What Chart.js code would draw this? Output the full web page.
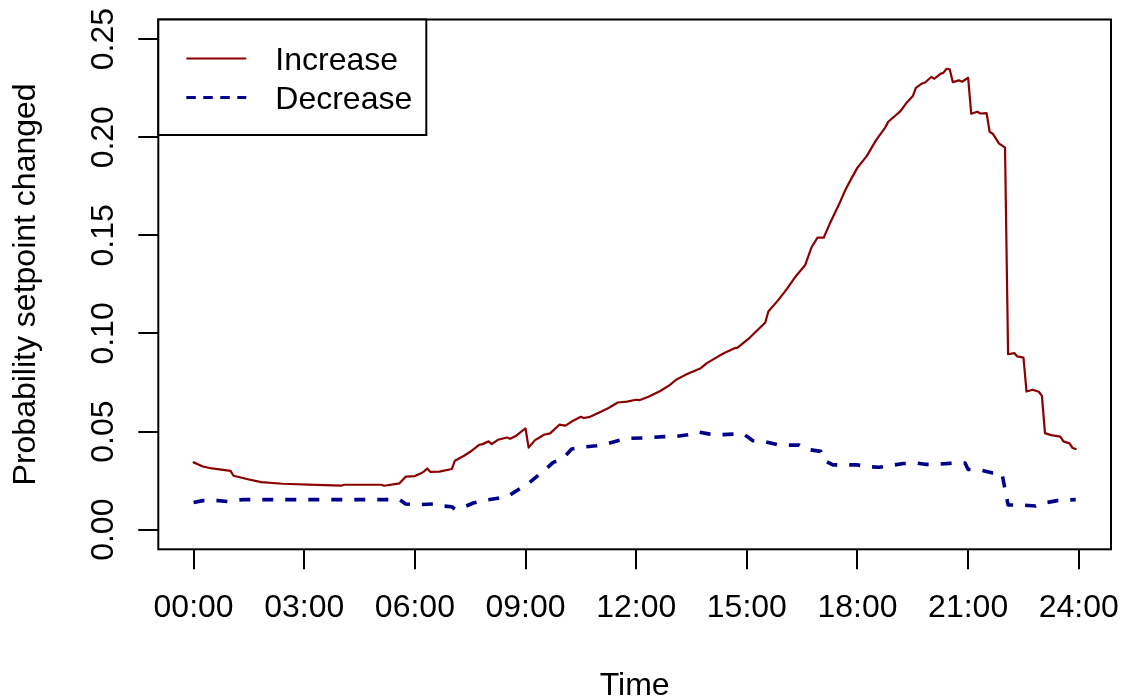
<!DOCTYPE html>
<html>
<head>
<meta charset="utf-8">
<title>Probability setpoint changed</title>
<script src="https://cdn.jsdelivr.net/npm/chart.js@4.4.1/dist/chart.umd.min.js"></script>
<style>
  html, body { margin: 0; padding: 0; background: #ffffff; overflow: hidden; }
  #wrap { position: relative; width: 1123px; height: 699px; }
</style>
</head>
<body>
<div id="wrap"><canvas id="chart" width="1123" height="699"></canvas></div>
<script>
// Time of day for each observation of the "Increase" series
const increaseTimes = [
  "00:00","00:15","00:30","01:00","01:05","01:30","01:50","02:25","03:20","04:00",
  "04:05","05:05","05:10","05:35","05:45","06:00","06:10","06:15","06:20","06:25",
  "06:40","07:00","07:05","07:20","07:30","07:45","07:50","08:00","08:05","08:15",
  "08:30","08:35","08:45","08:50","09:00","09:05","09:15","09:30","09:40","09:55",
  "10:05","10:15","10:30","10:35","10:45","11:00","11:15","11:30","11:45","12:00",
  "12:05","12:20","12:40","12:55","13:05","13:20","13:45","13:55","14:15","14:25",
  "14:40","14:45","15:05","15:30","15:35","15:50","16:05","16:20","16:35","16:45",
  "16:55","17:05","17:15","17:30","17:40","17:50","18:00","18:15","18:30","18:45",
  "18:50","19:10","19:20","19:30","19:35","19:45","19:50","20:00","20:05","20:15",
  "20:20","20:25","20:30","20:35","20:45","20:50","21:00","21:05","21:15","21:20",
  "21:30","21:35","21:40","21:50","22:00","22:05","22:15","22:20","22:30","22:35",
  "22:45","22:55","23:00","23:05","23:15","23:30","23:35","23:45","23:50","23:55"
];
// Probability that the setpoint was raised
const increaseValues = [
  0.0343,0.0322,0.0312,0.0300,0.0275,0.0256,0.0242,0.0234,0.0228,0.0224,
  0.0229,0.0229,0.0224,0.0236,0.0270,0.0273,0.0287,0.0297,0.0312,0.0295,
  0.0296,0.0309,0.0351,0.0377,0.0397,0.0433,0.0436,0.0450,0.0436,0.0458,
  0.0470,0.0463,0.0479,0.0492,0.0516,0.0418,0.0455,0.0484,0.0491,0.0535,
  0.0530,0.0551,0.0575,0.0569,0.0575,0.0597,0.0620,0.0648,0.0653,0.0662,
  0.0660,0.0677,0.0708,0.0738,0.0764,0.0789,0.0823,0.0849,0.0886,0.0903,
  0.0925,0.0928,0.0979,0.1056,0.1112,0.1166,0.1226,0.1293,0.1349,0.1438,
  0.1488,0.1488,0.1560,0.1658,0.1730,0.1789,0.1845,0.1904,0.1984,0.2049,
  0.2079,0.2133,0.2176,0.2210,0.2252,0.2274,0.2279,0.2307,0.2298,0.2323,
  0.2329,0.2349,0.2346,0.2281,0.2290,0.2283,0.2303,0.2120,0.2130,0.2121,
  0.2123,0.2028,0.2018,0.1969,0.1947,0.0894,0.0900,0.0883,0.0877,0.0704,
  0.0713,0.0703,0.0682,0.0492,0.0482,0.0474,0.0450,0.0440,0.0416,0.0411
];
// Time of day for each observation of the "Decrease" series
const decreaseTimes = [
  "00:00","00:15","00:40","00:55","01:20","05:35","05:45","06:05","06:30","06:40",
  "07:00","07:05","07:15","07:35","07:50","08:15","08:30","08:50","09:00","09:20",
  "09:30","09:45","10:00","10:15","10:30","10:55","11:10","11:30","11:45","12:10",
  "12:25","12:45","13:05","13:25","13:40","14:00","14:15","14:40","14:55","15:10",
  "15:25","15:50","16:00","16:25","16:35","17:00","17:05","17:20","17:40","18:00",
  "18:15","18:35","18:50","19:15","19:35","19:50","20:10","20:30","20:50","20:55",
  "21:00","21:20","21:40","21:55","22:05","22:25","22:50","23:00","23:25","23:40",
  "23:55"
];
// Probability that the setpoint was lowered
const decreaseValues = [
  0.0139,0.0148,0.0148,0.0144,0.0153,0.0153,0.0131,0.0127,0.0131,0.0122,
  0.0117,0.0105,0.0109,0.0136,0.0148,0.0160,0.0168,0.0207,0.0224,0.0275,
  0.0300,0.0343,0.0360,0.0411,0.0419,0.0428,0.0436,0.0453,0.0465,0.0467,
  0.0470,0.0474,0.0475,0.0484,0.0499,0.0487,0.0484,0.0487,0.0487,0.0453,
  0.0452,0.0433,0.0431,0.0431,0.0411,0.0399,0.0355,0.0330,0.0330,0.0330,
  0.0322,0.0318,0.0325,0.0337,0.0340,0.0333,0.0333,0.0338,0.0341,0.0340,
  0.0307,0.0304,0.0289,0.0287,0.0126,0.0126,0.0121,0.0134,0.0148,0.0151,
  0.0153
];
const seriesNames = ["Increase", "Decrease"];
const xTickLabels = ["00:00","03:00","06:00","09:00","12:00","15:00","18:00","21:00","24:00"];
const yTickLabels = ["0.00","0.05","0.10","0.15","0.20","0.25"];
const xTitle = "Time";
const yTitle = "Probability setpoint changed";

const FONT = '"Liberation Sans", Arial, Helvetica, sans-serif';
const FONT_SIZE = 32;
const RED = "#8B0000";
const BLUE = "#00008B";

const toHours = t => { const [h, m] = t.split(":").map(Number); return h + m / 60; };
const toPoints = (times, values) => times.map((t, i) => ({ x: toHours(t), y: values[i] }));

// Axis limits padded by 4% on each side of the data/tick range
const allHours = increaseTimes.concat(decreaseTimes).map(toHours);
const xLo = Math.min(...allHours), xHi = Math.max(...allHours);
const xPad = 0.04 * (xHi - xLo);
const xTickValues = xTickLabels.map(toHours);
const yTickValues = yTickLabels.map(Number);
const yLo = yTickValues[0], yHi = yTickValues[yTickValues.length - 1];
const yPad = 0.04 * (yHi - yLo);

// Frame, rotated y labels, axis titles and the boxed legend
const framePlugin = {
  id: "frame",
  afterDraw(chart) {
    const { ctx, chartArea: a, scales: { y } } = chart;
    ctx.save();
    ctx.strokeStyle = "#000";
    ctx.lineWidth = 2;
    ctx.strokeRect(a.left, a.top, a.right - a.left, a.bottom - a.top);

    ctx.fillStyle = "#000";
    ctx.font = FONT_SIZE + "px " + FONT;
    ctx.textAlign = "center";
    ctx.textBaseline = "alphabetic";

    yTickValues.forEach((v, i) => {
      ctx.save();
      ctx.translate(a.left - 45.3, y.getPixelForValue(v));
      ctx.rotate(-Math.PI / 2);
      ctx.fillText(yTickLabels[i], 0, 0);
      ctx.restore();
    });

    ctx.save();
    ctx.translate(a.left - 123.3, (a.top + a.bottom) / 2);
    ctx.rotate(-Math.PI / 2);
    ctx.fillText(yTitle, 0, 0);
    ctx.restore();

    ctx.fillText(xTitle, (a.left + a.right) / 2, a.bottom + 145.7);

    // legend
    const lx = a.left, ly = a.top, lw = 268, lh = 115.5;
    ctx.fillStyle = "#fff";
    ctx.fillRect(lx, ly, lw, lh);
    ctx.strokeStyle = "#000";
    ctx.lineWidth = 2;
    ctx.strokeRect(lx, ly, lw, lh);
    chart.data.datasets.forEach((ds, i) => {
      const rowY = ly + 39 + i * 39;
      ctx.save();
      ctx.strokeStyle = ds.borderColor;
      ctx.lineWidth = i === 0 ? 2 : 3;
      ctx.lineCap = "butt";
      ctx.setLineDash(i === 0 ? [] : [9.5, 7.5]);
      ctx.beginPath();
      ctx.moveTo(lx + 28, rowY);
      ctx.lineTo(lx + 88, rowY);
      ctx.stroke();
      ctx.restore();
      ctx.fillStyle = "#000";
      ctx.textAlign = "left";
      ctx.fillText(ds.label, lx + 117, rowY + 11.5);
    });
    ctx.restore();
  }
};

new Chart(document.getElementById("chart"), {
  type: "line",
  data: {
    datasets: [
      {
        label: seriesNames[0],
        data: toPoints(increaseTimes, increaseValues),
        borderColor: RED,
        borderWidth: 2.2,
        borderJoinStyle: "round",
        borderCapStyle: "round",
        fill: false,
        pointRadius: 0,
        tension: 0
      },
      {
        label: seriesNames[1],
        data: toPoints(decreaseTimes, decreaseValues),
        borderColor: BLUE,
        borderWidth: 3.6,
        borderDash: [11, 12],
        borderJoinStyle: "round",
        borderCapStyle: "butt",
        fill: false,
        pointRadius: 0,
        tension: 0
      }
    ]
  },
  options: {
    responsive: false,
    animation: false,
    devicePixelRatio: 1,
    layout: { padding: { top: 19.5, right: 12, left: 0, bottom: 0 } },
    plugins: { legend: { display: false }, tooltip: { enabled: false } },
    scales: {
      x: {
        type: "linear",
        min: xLo - xPad,
        max: xHi + xPad,
        afterBuildTicks: s => { s.ticks = xTickValues.map(v => ({ value: v })); },
        afterFit: s => { s.height = 149.7; s.paddingLeft = 0; s.paddingRight = 0; },
        border: { display: false },
        grid: { drawOnChartArea: false, drawTicks: true, tickLength: 20, color: "#000", lineWidth: 2 },
        ticks: {
          autoSkip: false, maxRotation: 0, minRotation: 0, padding: 20,
          color: "#000", font: { family: FONT, size: FONT_SIZE },
          callback: (v, i) => xTickLabels[i]
        }
      },
      y: {
        type: "linear",
        min: yLo - yPad,
        max: yHi + yPad,
        afterBuildTicks: s => { s.ticks = yTickValues.map(v => ({ value: v })); },
        afterFit: s => { s.width = 158.3; s.paddingTop = 0; s.paddingBottom = 0; },
        border: { display: false },
        grid: { drawOnChartArea: false, drawTicks: true, tickLength: 20, color: "#000", lineWidth: 2 },
        ticks: { display: false }
      }
    }
  },
  plugins: [framePlugin]
});
</script>
</body>
</html>
